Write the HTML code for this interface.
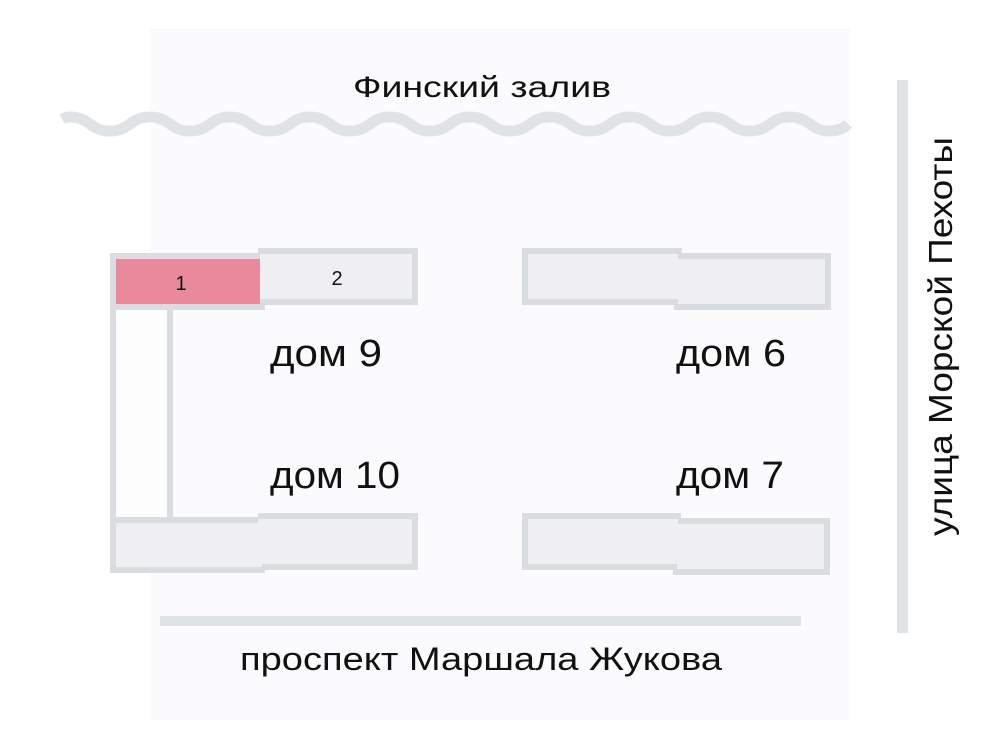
<!DOCTYPE html>
<html><head><meta charset="utf-8"><style>
html,body{margin:0;padding:0;background:#fff;}
svg{display:block;}
text{font-family:"Liberation Sans","DejaVu Sans",sans-serif;fill:#111;}
</style></head><body>
<svg width="998" height="749" viewBox="0 0 998 749">
<rect x="150" y="28" width="700" height="692" fill="#fbfbfd"/>
<path d="M62,119 C64,118 66,117 70,117 C90,117 90,131 110,131 C130,131 130,117 150,117 C170,117 170,131 190,131 C210,131 210,117 230,117 C250,117 250,131 270,131 C290,131 290,117 310,117 C330,117 330,131 350,131 C370,131 370,117 390,117 C410,117 410,131 430,131 C450,131 450,117 470,117 C490,117 490,131 510,131 C530,131 530,117 550,117 C570,117 570,131 590,131 C610,131 610,117 630,117 C650,117 650,131 670,131 C690,131 690,117 710,117 C730,117 730,131 750,131 C770,131 770,117 790,117 C810,117 810,131 830,131 C840,131 845,127 848,124" fill="none" stroke="#dfe3e6" stroke-width="11"/>
<text x="482" y="97" font-size="30" text-anchor="middle" textLength="258" lengthAdjust="spacingAndGlyphs">Финский залив</text>
<rect x="897" y="80" width="11" height="553" fill="#dfe3e6"/>
<rect x="160" y="616" width="641" height="10" fill="#dfe3e6"/>
<g fill="#d9dde1">
<rect x="110" y="253" width="155" height="57"/>
<rect x="258" y="248" width="160" height="57"/>
<rect x="110" y="305" width="63" height="215"/>
<rect x="110" y="517" width="155" height="56"/>
<rect x="258" y="513" width="160" height="57"/>
<rect x="522" y="248" width="160" height="57"/>
<rect x="674" y="253" width="157" height="57"/>
<rect x="522" y="513" width="159" height="57"/>
<rect x="673" y="518" width="157" height="57"/>
</g>
<g fill="#efeff2">
<rect x="116" y="310" width="51" height="207" fill="#fdfdfe"/>
<rect x="260" y="254" width="152" height="45"/>
<rect x="116" y="523" width="146" height="44"/>
<rect x="258" y="519" width="154" height="45"/>
<rect x="528" y="254" width="150" height="45"/>
<rect x="678" y="259" width="147" height="45"/>
<rect x="528" y="519" width="150" height="45"/>
<rect x="677" y="524" width="147" height="45"/>
</g>
<rect x="116" y="259" width="144" height="45" fill="#e88a9b"/>
<text x="181" y="290" font-size="20" text-anchor="middle" fill="#5a1020">1</text>
<text x="337" y="285" font-size="20" text-anchor="middle">2</text>
<text x="270" y="366" font-size="38" textLength="112" lengthAdjust="spacingAndGlyphs">дом 9</text>
<text x="676" y="366" font-size="38" textLength="110" lengthAdjust="spacingAndGlyphs">дом 6</text>
<text x="270" y="488" font-size="38" textLength="130" lengthAdjust="spacingAndGlyphs">дом 10</text>
<text x="676" y="488" font-size="38" textLength="108" lengthAdjust="spacingAndGlyphs">дом 7</text>
<text x="240" y="670" font-size="32" textLength="482" lengthAdjust="spacingAndGlyphs">проспект Маршала Жукова</text>
<text transform="translate(952,536) rotate(-90)" font-size="33" textLength="399" lengthAdjust="spacingAndGlyphs">улица Морской Пехоты</text>
</svg>
</body></html>
